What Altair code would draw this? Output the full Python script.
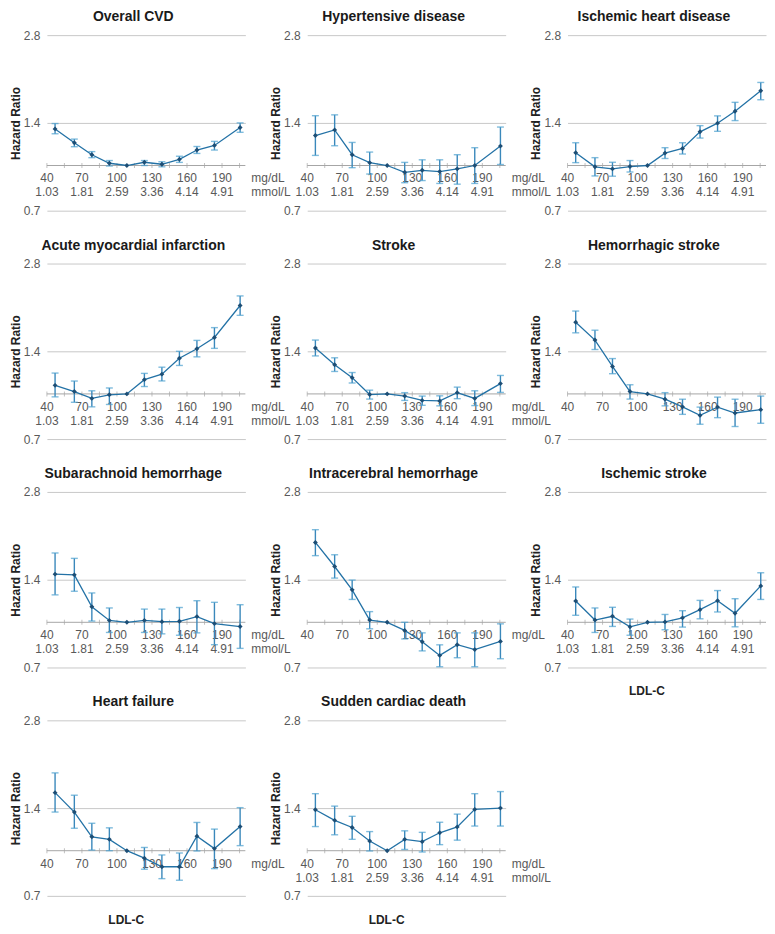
import altair as alt
import pandas as pd

# ---------------- data ----------------
ldl_mid = [47, 63.5, 78.5, 93.5, 108.5, 123.5, 138.5, 153.5, 168.5, 183.5, 205.5]
tick_mg = [40, 70, 100, 130, 160, 190]
tick_mmol = ["1.03", "1.81", "2.59", "3.36", "4.14", "4.91"]
minor_ticks = [40, 55, 70, 85, 100, 115, 130, 145, 160, 175, 190, 205]
y_ticks = [0.7, 1.4, 2.8]
X_DOMAIN = [40, 210]
Y_DOMAIN = [0.7, 2.8]
REF_HR = 1.0

hr_overall = [1.335, 1.197, 1.089, 1.018, 1.0, 1.026, 1.010, 1.050, 1.130, 1.172, 1.350]
lo_overall = [1.285, 1.160, 1.064, 0.996, None, 1.000, 0.990, 1.025, 1.100, 1.130, 1.300]
hi_overall = [1.393, 1.232, 1.116, 1.040, None, 1.040, 1.030, 1.076, 1.162, 1.210, 1.400]

hr_hyper = [1.267, 1.325, 1.089, 1.023, 1.0, 0.948, 0.963, 0.953, 0.974, 1.000, 1.166]
lo_hyper = [1.083, 1.169, 0.983, 0.935, None, 0.873, 0.888, 0.868, 0.863, 0.868, 1.008]
hi_hyper = [1.482, 1.492, 1.200, 1.112, None, 1.025, 1.046, 1.046, 1.089, 1.151, 1.355]

hr_ihd = [1.106, 0.990, 0.974, 0.992, 1.0, 1.103, 1.144, 1.305, 1.397, 1.535, 1.805]
lo_ihd = [1.023, 0.921, 0.919, 0.950, None, 1.057, 1.095, 1.242, 1.310, 1.426, 1.681]
hi_ihd = [1.197, 1.064, 1.026, 1.040, None, 1.151, 1.197, 1.370, 1.480, 1.647, 1.927]

hr_ami = [1.070, 1.019, 0.965, 0.993, 1.0, 1.119, 1.169, 1.326, 1.429, 1.562, 2.010]
lo_ami = [0.977, 0.936, 0.903, 0.920, None, 1.060, 1.108, 1.252, 1.340, 1.433, 1.860]
hi_ami = [1.179, 1.107, 1.025, 1.048, None, 1.176, 1.235, 1.400, 1.526, 1.688, 2.168]

hr_stroke = [1.437, 1.259, 1.137, 0.995, 1.0, 0.983, 0.950, 0.946, 1.010, 0.965, 1.085]
lo_stroke = [1.350, 1.194, 1.090, 0.960, None, 0.950, 0.914, 0.910, 0.963, 0.912, 1.012]
hi_stroke = [1.530, 1.330, 1.184, 1.030, None, 1.010, 0.983, 0.985, 1.055, 1.025, 1.157]

hr_hemo = [1.761, 1.530, 1.242, 1.019, 1.0, 0.959, 0.903, 0.844, 0.901, 0.860, 0.883]
lo_hemo = [1.620, 1.420, 1.173, 0.960, None, 0.910, 0.851, 0.787, 0.829, 0.773, 0.793]
hi_hemo = [1.924, 1.654, 1.322, 1.075, None, 1.010, 0.959, 0.901, 0.975, 0.959, 0.983]

hr_sah = [1.463, 1.455, 1.131, 1.015, 1.0, 1.015, 1.005, 1.008, 1.046, 0.990, 0.967]
lo_sah = [1.242, 1.278, 1.010, 0.923, None, 0.923, 0.913, 0.903, 0.920, 0.838, 0.814]
hi_sah = [1.729, 1.657, 1.261, 1.120, None, 1.110, 1.110, 1.124, 1.186, 1.171, 1.149]

hr_ich = [1.879, 1.554, 1.292, 1.018, 1.0, 0.938, 0.858, 0.770, 0.838, 0.806, 0.860]
lo_ich = [1.693, 1.418, 1.198, 0.950, None, 0.877, 0.798, 0.704, 0.756, 0.704, 0.750]
hi_ich = [2.078, 1.705, 1.396, 1.088, None, 1.000, 0.920, 0.837, 0.920, 0.920, 0.988]

hr_isch = [1.183, 1.018, 1.049, 0.965, 1.0, 1.003, 1.036, 1.105, 1.186, 1.074, 1.333]
lo_isch = [1.057, 0.923, 0.968, 0.903, None, 0.943, 0.963, 1.028, 1.085, 0.965, 1.198]
hi_isch = [1.322, 1.120, 1.126, 1.026, None, 1.064, 1.096, 1.189, 1.285, 1.205, 1.479]

hr_hf = [1.582, 1.357, 1.116, 1.094, 1.0, 0.943, 0.881, 0.881, 1.122, 1.017, 1.210]
lo_hf = [1.357, 1.194, 1.005, 1.000, None, 0.864, 0.802, 0.792, 0.998, 0.868, 1.041]
hi_hf = [1.849, 1.550, 1.242, 1.198, None, 1.026, 0.967, 0.982, 1.250, 1.186, 1.405]

hr_scd = [1.382, 1.271, 1.201, 1.080, 1.0, 1.094, 1.074, 1.152, 1.207, 1.386, 1.400]
lo_scd = [1.210, 1.134, 1.094, 0.998, None, 1.010, 0.990, 1.049, 1.087, 1.215, 1.215]
hi_scd = [1.569, 1.422, 1.312, 1.163, None, 1.170, 1.156, 1.252, 1.335, 1.569, 1.595]

# (title, hr, lo, hi, show mmol row, show mg unit, show mmol unit, show x title)
panels = [
    ("Overall CVD", hr_overall, lo_overall, hi_overall, True, True, True, False),
    ("Hypertensive disease", hr_hyper, lo_hyper, hi_hyper, True, True, True, False),
    ("Ischemic heart disease", hr_ihd, lo_ihd, hi_ihd, True, False, False, False),
    ("Acute myocardial infarction", hr_ami, lo_ami, hi_ami, True, True, True, False),
    ("Stroke", hr_stroke, lo_stroke, hi_stroke, True, True, True, False),
    ("Hemorrhagic stroke", hr_hemo, lo_hemo, hi_hemo, False, False, False, False),
    ("Subarachnoid hemorrhage", hr_sah, lo_sah, hi_sah, True, True, True, False),
    ("Intracerebral hemorrhage", hr_ich, lo_ich, hi_ich, False, True, False, False),
    ("Ischemic stroke", hr_isch, lo_isch, hi_isch, True, False, False, True),
    ("Heart failure", hr_hf, lo_hf, hi_hf, False, True, False, True),
    ("Sudden cardiac death", hr_scd, lo_scd, hi_scd, True, True, True, True),
]

# ---------------- style / layout ----------------
W, H = 199, 176
ROW_GAP, COL_GAP = 53, 62
TITLE_X = 114
XTITLE_X = 108
LINE_C = "#2372a6"
POINT_C = "#1d4e75"
ERR_C = "#3a88bb"
CAP_C = "#4aa0cf"
AXIS_C = "#a6a6a6"
GRID_C = "#c8c8c8"
TEXT_C = "#595959"

xs = alt.Scale(domain=X_DOMAIN, nice=False, zero=False)
ys = alt.Scale(type="log", domain=Y_DOMAIN, nice=False)
yaxis = alt.Axis(values=y_ticks, format=".1f", grid=True, gridColor=GRID_C, gridWidth=1,
                 domain=False, ticks=False, labelFontSize=12, labelColor=TEXT_C,
                 labelPadding=7, title="Hazard Ratio", titleFontSize=12,
                 titleFontWeight="bold", titleColor="#222222", titlePadding=1)


def X(f="x"):
    return alt.X(f"{f}:Q", scale=xs, axis=None)


def Y(f="y"):
    return alt.Y(f"{f}:Q", scale=ys, axis=yaxis)


def make_panel(title, hr, lo, hi, mmol, unit_mg, unit_mmol, xtitle):
    layers = []
    axis_df = pd.DataFrame({"x": [X_DOMAIN[0]], "x2": [X_DOMAIN[1]], "y": [REF_HR]})
    layers.append(alt.Chart(axis_df).mark_rule(color=AXIS_C, strokeWidth=1).encode(
        x=X(), x2="x2:Q", y=Y()))
    tick_df = pd.DataFrame({"x": minor_ticks, "y": [REF_HR] * len(minor_ticks)})
    layers.append(alt.Chart(tick_df).mark_tick(orient="vertical", size=5, thickness=1,
                                               color=AXIS_C).encode(x=X(), y=Y()))
    mg_df = pd.DataFrame({"x": tick_mg, "y": [REF_HR] * len(tick_mg),
                          "t": [str(v) for v in tick_mg]})
    layers.append(alt.Chart(mg_df).mark_text(fontSize=12, color=TEXT_C, dy=13,
                                             baseline="middle").encode(
        x=X(), y=Y(), text="t:N"))
    if mmol:
        mm_df = pd.DataFrame({"x": tick_mg, "y": [REF_HR] * len(tick_mg), "t": tick_mmol})
        layers.append(alt.Chart(mm_df).mark_text(fontSize=12, color=TEXT_C, dy=27,
                                                 baseline="middle").encode(
            x=X(), y=Y(), text="t:N"))
    if unit_mg:
        u_df = pd.DataFrame({"x": [X_DOMAIN[1]], "y": [REF_HR], "t": ["mg/dL"]})
        layers.append(alt.Chart(u_df).mark_text(fontSize=12, color=TEXT_C, dy=13, dx=6,
                                                align="left", baseline="middle").encode(
            x=X(), y=Y(), text="t:N"))
    if unit_mmol:
        u_df = pd.DataFrame({"x": [X_DOMAIN[1]], "y": [REF_HR], "t": ["mmol/L"]})
        layers.append(alt.Chart(u_df).mark_text(fontSize=12, color=TEXT_C, dy=27, dx=6,
                                                align="left", baseline="middle").encode(
            x=X(), y=Y(), text="t:N"))

    err = pd.DataFrame({"x": ldl_mid, "lo": lo, "hi": hi}).dropna()
    layers.append(alt.Chart(err).mark_rule(color=ERR_C, strokeWidth=1.4).encode(
        x=X(), y=Y("lo"), y2="hi:Q"))
    caps = pd.DataFrame({"x": list(err["x"]) * 2, "y": list(err["lo"]) + list(err["hi"])})
    layers.append(alt.Chart(caps).mark_tick(orient="horizontal", size=7, thickness=1.4,
                                            color=CAP_C).encode(x=X(), y=Y()))
    pts = pd.DataFrame({"x": ldl_mid, "y": hr})
    layers.append(alt.Chart(pts).mark_line(color=LINE_C, strokeWidth=1.3).encode(
        x=X(), y=Y()))
    layers.append(alt.Chart(pts).mark_point(shape="diamond", filled=True, size=24,
                                            opacity=1, color=POINT_C).encode(x=X(), y=Y()))
    t_df = pd.DataFrame({"x": [TITLE_X], "t": [title]})
    layers.append(alt.Chart(t_df).mark_text(fontSize=14, fontWeight="bold", color="#1a1a1a",
                                            baseline="middle").encode(
        x=X(), y=alt.value(-18), text="t:N"))
    if xtitle:
        xt_df = pd.DataFrame({"x": [XTITLE_X], "t": ["LDL-C"]})
        layers.append(alt.Chart(xt_df).mark_text(fontSize=12, fontWeight="bold",
                                                 color="#222222", baseline="middle").encode(
            x=X(), y=alt.value(H + 24), text="t:N"))
    return alt.layer(*layers).properties(width=W, height=H)


charts = [make_panel(*p) for p in panels]

chart = alt.concat(
    *charts, columns=3, spacing={"row": ROW_GAP, "column": COL_GAP}, bounds="flush"
).properties(padding=0).configure(font="Liberation Sans").configure_view(stroke="transparent")

chart.save("out.html", embed_options={"renderer": "svg", "actions": False})
